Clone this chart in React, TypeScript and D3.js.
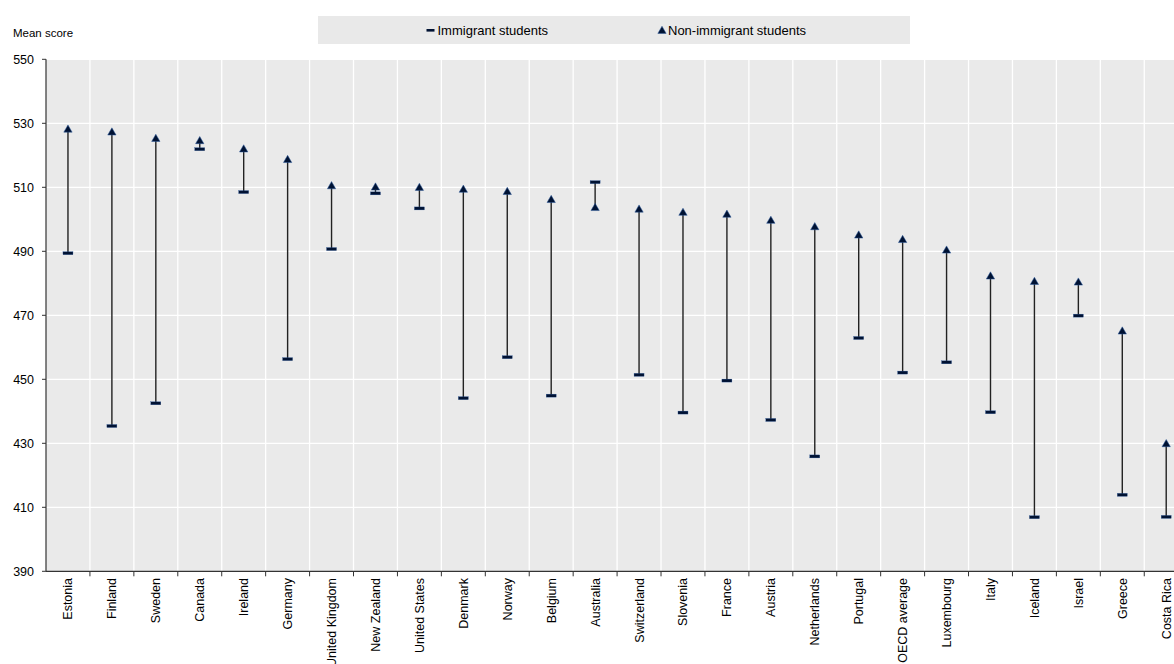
import React from "react";
import * as d3 from "d3";

const countries = [
  "Estonia", "Finland", "Sweden", "Canada", "Ireland", "Germany", "United Kingdom",
  "New Zealand", "United States", "Denmark", "Norway", "Belgium", "Australia",
  "Switzerland", "Slovenia", "France", "Austria", "Netherlands", "Portugal",
  "OECD average", "Luxembourg", "Italy", "Iceland", "Israel", "Greece", "Costa Rica",
];
const immigrant = [
  489.4, 435.4, 442.5, 521.9, 508.5, 456.3, 490.7, 508.1, 503.4, 444.1, 456.9, 444.9,
  511.6, 451.4, 439.6, 449.6, 437.3, 425.9, 462.9, 452.1, 455.3, 439.7, 406.9, 469.9,
  413.9, 407.0,
];
const nonImmigrant = [
  528.3, 527.4, 525.4, 524.7, 522.1, 518.8, 510.6, 510.2, 510.1, 509.5, 508.8, 506.3,
  503.8, 503.3, 502.3, 501.7, 499.8, 497.8, 495.2, 493.8, 490.5, 482.4, 480.7, 480.5,
  465.2, 430.0,
];
const yTicks = [390, 410, 430, 450, 470, 490, 510, 530, 550];

const W = 1174;
const H = 664;
const FONT = "'Liberation Sans', Arial, sans-serif";
const MARK = "#001233";
const MARK_EDGE = "#2b5a9e";

export default function App() {
  const left = 46;
  const bandW = 43.93;
  const x = d3.scaleBand<string>().domain(countries).range([left, left + bandW * countries.length]).padding(0);
  const y = d3.scaleLinear().domain([390, 550]).range([571.3, 59.3]);
  const plotRight = left + bandW * countries.length;
  const tri = d3.symbol().type(d3.symbolTriangle).size(30)()!;
  const boundaries = countries.map((_, i) => left + bandW * (i + 1));

  return (
    <svg width={W} height={H} style={{ position: "absolute", left: 0, top: 0, display: "block" }} fontFamily={FONT}>
      <rect x={0} y={0} width={W} height={H} fill="#ffffff" />
      {/* legend */}
      <rect x={318} y={16} width={592} height={28} fill="#e9e9e9" />
      <rect x={426.5} y={29} width={8} height={2.6} fill={MARK} />
      <text x={437.5} y={35} fontSize={13} fill="#000">Immigrant students</text>
      <path d={tri} transform="translate(662,31)" fill={MARK} stroke={MARK_EDGE} strokeWidth={0.5} />
      <text x={668} y={35} fontSize={13} fill="#000">Non-immigrant students</text>
      <text x={13} y={37} fontSize={11.5} fill="#000">Mean score</text>

      {/* plot background */}
      <rect x={left} y={y(550)} width={plotRight - left} height={y(390) - y(550)} fill="#eaeaea" />
      {yTicks.filter((t) => t !== 390).map((t) => (
        <line key={t} x1={left} x2={plotRight} y1={y(t)} y2={y(t)} stroke="#ffffff" strokeWidth={1.3} />
      ))}
      {boundaries.map((b, i) => (
        <line key={i} x1={b} x2={b} y1={y(550)} y2={y(390)} stroke="#ffffff" strokeWidth={1.3} />
      ))}

      {/* axes */}
      <line x1={left} x2={left} y1={y(550)} y2={y(390)} stroke="#333" strokeWidth={1.2} />
      <line x1={left} x2={plotRight} y1={y(390)} y2={y(390)} stroke="#333" strokeWidth={1.2} />
      {yTicks.map((t) => (
        <g key={t}>
          <line x1={left - 4} x2={left} y1={y(t)} y2={y(t)} stroke="#333" strokeWidth={1} />
          <text x={34} y={y(t) + 4.5} fontSize={12.5} textAnchor="end" fill="#000">{t}</text>
        </g>
      ))}
      {boundaries.map((b, i) => (
        <line key={i} x1={b} x2={b} y1={y(390)} y2={y(390) + 5} stroke="#333" strokeWidth={1} />
      ))}
      {countries.map((c) => {
        const cx = x(c)! + x.bandwidth() / 2;
        return (
          <text key={c} transform={`translate(${cx + 4.5},578) rotate(-90)`} fontSize={12.5} textAnchor="end" fill="#000">
            {c}
          </text>
        );
      })}

      {/* dumbbells */}
      {countries.map((c, i) => {
        const cx = x(c)! + x.bandwidth() / 2;
        return (
          <g key={c}>
            <line x1={cx} x2={cx} y1={y(immigrant[i])} y2={y(nonImmigrant[i])} stroke="#222" strokeWidth={1.4} />
            <rect x={cx - 5} y={y(immigrant[i]) - 1.5} width={10} height={3} fill={MARK} stroke={MARK_EDGE} strokeWidth={0.3} />
            <path d={tri} transform={`translate(${cx},${y(nonImmigrant[i]) + 1})`} fill={MARK} stroke={MARK_EDGE} strokeWidth={0.5} />
          </g>
        );
      })}
    </svg>
  );
}
